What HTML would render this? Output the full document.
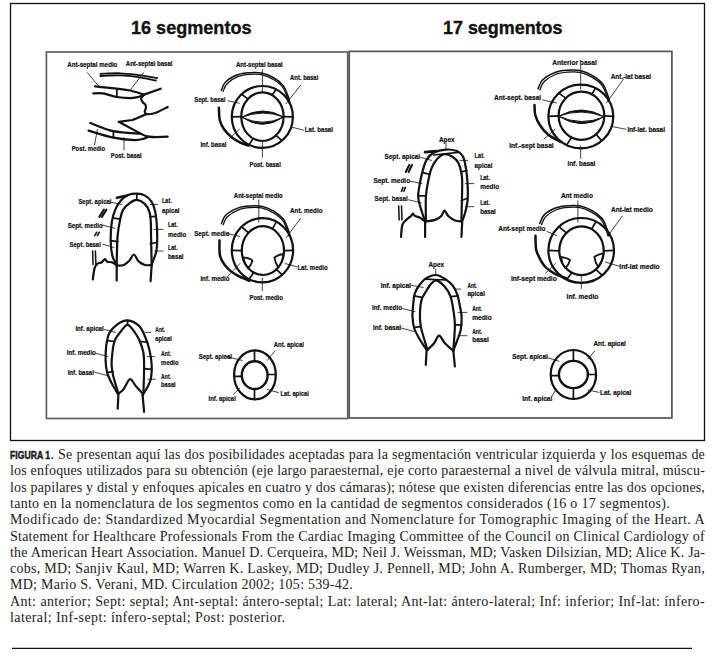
<!DOCTYPE html>
<html><head><meta charset="utf-8">
<style>
html,body{margin:0;padding:0;background:#fff;}
body{width:719px;height:661px;position:relative;overflow:hidden;}
svg{position:absolute;left:0;top:0;}
svg text{stroke:#111;stroke-width:0.22px;fill:#111;font-family:"Liberation Sans",sans-serif;font-weight:bold;}
.cap{position:absolute;left:10px;width:695px;font-family:"Liberation Serif",serif;font-size:14px;color:#222;white-space:nowrap;line-height:16px;}
.j{text-align:justify;text-align-last:justify;}
.fig{position:absolute;left:10px;top:448.5px;font-family:"Liberation Sans",sans-serif;font-weight:bold;font-size:10.2px;-webkit-text-stroke:0.45px #1a1a1a;transform:scaleX(0.85);transform-origin:0 0;color:#1a1a1a;line-height:14px;}
</style></head><body>
<svg width="719" height="661" viewBox="0 0 719 661">
<rect x="10.5" y="3.5" width="694" height="437" fill="none" stroke="#111" stroke-width="1.3"/>
<text x="131" y="34" font-size="19" style="stroke-width:0.35px" textLength="120.5" lengthAdjust="spacingAndGlyphs">16 segmentos</text>
<text x="443" y="34" font-size="19" style="stroke-width:0.35px" textLength="119.5" lengthAdjust="spacingAndGlyphs">17 segmentos</text>
<rect x="46.4" y="52" width="301.3" height="366.5" fill="none" stroke="#606060" stroke-width="1.7"/>
<rect x="349.2" y="51.4" width="322.7" height="366.6" fill="none" stroke="#555" stroke-width="1.7"/>
<g fill="none" stroke="#111" stroke-linecap="round" stroke-linejoin="round">
<path d="M100.4,73.9 C103.75,73.8 114.2,73.1 120.5,73.3 C126.8,73.5 132.1,74.32 138.2,75.1 C144.3,75.88 153.95,77.52 157.1,78" stroke-width="1.8" />
<path d="M100.4,76 C103.75,75.9 114.2,75.2 120.5,75.4 C126.8,75.6 132.3,76.35 138.2,77.2 C144.1,78.05 152.95,79.95 155.9,80.5" stroke-width="1.8" />
<path d="M95,86.3 C98.65,86.7 111.08,88 116.9,88.7 C122.72,89.4 125.37,89.52 129.9,90.5 C134.43,91.48 141.73,93.92 144.1,94.6" stroke-width="2.2" />
<path d="M144.1,94.6 L160.7,88.7" stroke-width="2.2"/>
<path d="M93.3,93.4 C94.87,93.4 98.77,92.8 102.7,93.4 C106.63,94 112.37,96.22 116.9,97 C121.43,97.78 126.35,98.1 129.9,98.1 C133.45,98.1 135.93,97.48 138.2,97 C140.47,96.52 142.62,95.5 143.5,95.2" stroke-width="2.2" />
<path d="M116.9,89.3 L116.9,97" stroke-width="1.7"/>
<path d="M143.5,95.2 C143.1,95.78 141.2,97.52 141.1,98.7 C141,99.88 142.2,101.32 142.9,102.3 C143.6,103.28 144.8,103.62 145.3,104.6 C145.8,105.58 146,107.02 145.9,108.2 C145.8,109.38 144.6,110.72 144.7,111.7 C144.8,112.68 145.02,113.8 146.5,114.1 C147.98,114.4 151.63,113.9 153.6,113.5 C155.57,113.1 155.95,112.78 158.3,111.7 C160.65,110.62 166.13,107.78 167.7,107" stroke-width="2.2" />
<path d="M146.5,114.1 C140,117 136,119 132.3,120 L118.7,121.8 L140.6,133.6 C144,135.5 146,136.4 148.8,136.6 C152,137 155,137.1 155.9,137.1 L167.7,136.6" stroke-width="2.2" />
<path d="M90.3,123 C94.15,124.37 105.02,129.43 113.4,131.2 C121.78,132.97 136.07,133.2 140.6,133.6" stroke-width="2.2" />
<path d="M88.5,130.6 C92.65,131.78 105.72,136.12 113.4,137.7 C121.08,139.28 129.5,139.95 134.6,140.1 C139.7,140.25 141.63,139.18 144,138.6 C146.37,138.02 148,136.93 148.8,136.6" stroke-width="2.2" />
<path d="M113.4,131.2 L113.4,137.7" stroke-width="1.7"/>
<path d="M87.4,72.7 L100.4,88.1" stroke-width="0.8"/>
<path d="M143.5,72.7 L129.9,90.5" stroke-width="0.8"/>
<path d="M97.4,129.5 L94.5,145" stroke-width="0.8"/>
<path d="M124,137.7 L124,150" stroke-width="0.8"/>
<text x="67.3" y="66.5" font-size="7.6" textLength="50.1" lengthAdjust="spacingAndGlyphs">Ant-septal medio</text>
<text x="125.8" y="66.3" font-size="7.6" textLength="46.7" lengthAdjust="spacingAndGlyphs">Ant-septal basal</text>
<text x="71.7" y="150.6" font-size="7.6" textLength="33.3" lengthAdjust="spacingAndGlyphs">Post. medio</text>
<text x="110.8" y="158.1" font-size="7.6" textLength="30.9" lengthAdjust="spacingAndGlyphs">Post. basal</text>
<path d="M221.31,90.41 C222.01,89 222.83,84.57 225.53,81.96 C228.24,79.35 233.53,76.31 237.53,74.76 C241.53,73.21 245.53,72.95 249.53,72.65 C253.53,72.34 257.52,72.09 261.53,72.93 C265.55,73.78 270.01,75.62 273.63,77.73 C277.25,79.85 280.73,82.29 283.23,85.61 C285.73,88.92 287.53,94.78 288.61,97.61 C289.69,100.43 289.53,101.73 289.71,102.55" stroke-width="1.5" />
<path d="M223.09,91.41 C223.77,90.09 224.67,85.94 227.21,83.45 C229.76,80.95 234.57,77.96 238.35,76.44 C242.13,74.92 246.03,74.63 249.87,74.33 C253.71,74.02 257.55,73.8 261.39,74.61 C265.23,75.43 269.42,77.22 272.91,79.22 C276.4,81.22 279.87,83.46 282.32,86.61 C284.77,89.77 286.53,95.48 287.6,98.13 C288.67,100.79 288.56,101.81 288.75,102.55" stroke-width="1.3" />
<path d="M218.9,107.7 C219.04,109.74 218.93,116.41 219.75,119.95 C220.58,123.49 221.92,126.12 223.85,128.95 C225.78,131.78 228.6,134.68 231.35,136.95 C234.1,139.22 237.52,141.12 240.35,142.55 C243.18,143.98 247.02,145.05 248.35,145.55" stroke-width="2.5" />
<ellipse cx="262.35" cy="116.95" rx="30.55" ry="30.95" stroke-width="2.2"/>
<ellipse cx="262.45" cy="116.7" rx="21.15" ry="24.3" stroke-width="2.2"/>
<path d="M241.8,117.2 Q262.7,104.8 283.6,117 Q262.7,109 241.8,117.2 Z" fill="#111" stroke-width="1.0"/>
<path d="M241.8,117.2 Q262.7,131.6 283.6,117 Q262.7,127.4 241.8,117.2 Z" fill="#111" stroke-width="1.0"/>
<path d="M241.51,94.31 L248.03,98.93" stroke-width="1.7"/>
<path d="M276.22,89.37 L272.05,95.05" stroke-width="1.7"/>
<path d="M231.8,116.95 L241.3,116.7" stroke-width="1.7"/>
<path d="M292.9,116.95 L283.6,116.7" stroke-width="1.7"/>
<path d="M248.96,144.77 L253.18,138.54" stroke-width="1.7"/>
<path d="M281.99,140.66 L276.04,135.31" stroke-width="1.7"/>
<path d="M262.4,69.5 L262.4,92" stroke-width="0.8"/>
<path d="M262.4,142 L262.4,157.3" stroke-width="0.8"/>
<path d="M228,100.8 L239.3,103.2" stroke-width="0.8"/>
<path d="M300.5,85.5 L286,103.7" stroke-width="0.8"/>
<path d="M292.4,127.3 L303.5,130.2" stroke-width="0.8"/>
<path d="M239.3,129.2 L229.5,138.6" stroke-width="0.8"/>
<text x="235.9" y="66.7" font-size="7.6" textLength="46.9" lengthAdjust="spacingAndGlyphs">Ant-septal basal</text>
<text x="290.1" y="79.8" font-size="7.6" textLength="28.2" lengthAdjust="spacingAndGlyphs">Ant. basal</text>
<text x="194.2" y="102.2" font-size="7.6" textLength="31.3" lengthAdjust="spacingAndGlyphs">Sept. basal</text>
<text x="304.8" y="132.4" font-size="7.6" textLength="28.1" lengthAdjust="spacingAndGlyphs">Lat. basal</text>
<text x="200.4" y="147" font-size="7.6" textLength="26.1" lengthAdjust="spacingAndGlyphs">Inf. basal</text>
<text x="249.5" y="166.8" font-size="7.6" textLength="31.3" lengthAdjust="spacingAndGlyphs">Post. basal</text>
<path d="M116.7,265 C115.98,263.5 113.4,259.95 112.4,256 C111.4,252.05 110.8,246.97 110.7,241.3 C110.6,235.63 110.95,227.48 111.8,222 C112.65,216.52 114.1,212.18 115.8,208.4 C117.5,204.62 119.83,201.57 122,199.3 C124.17,197.03 126.33,195.73 128.8,194.8 C131.27,193.87 134.15,193.6 136.8,193.7 C139.45,193.8 142.25,194.08 144.7,195.4 C147.15,196.72 149.78,199.05 151.5,201.6 C153.22,204.15 154.15,207.3 155,210.7 C155.85,214.1 156.23,217.28 156.6,222 C156.97,226.72 157.27,234.05 157.2,239 C157.13,243.95 157.12,247.45 156.2,251.7 C155.28,255.95 152.45,262.37 151.7,264.5" stroke-width="2.2" />
<path d="M116.7,265 C116.83,260.3 116.9,244.53 117.5,236.8 C118.1,229.07 119.35,223.13 120.3,218.6 C121.25,214.07 121.58,212.23 123.2,209.6 C124.82,206.97 127.73,204.42 130,202.8 C132.27,201.18 134.35,199.72 136.8,199.9 C139.25,200.08 142.6,201.92 144.7,203.9 C146.8,205.88 148.38,208.78 149.4,211.8 C150.42,214.82 150.52,217.47 150.8,222 C151.08,226.53 150.95,231.92 151.1,239 C151.25,246.08 151.6,260.25 151.7,264.5" stroke-width="2.2" />
<path d="M116.7,265.6 C117.9,265.5 121.77,265.83 123.9,265 C126.03,264.17 127.83,262.35 129.5,260.6 C131.17,258.85 132.42,254.42 133.9,254.5 C135.38,254.58 136.55,259.35 138.4,261.1 C140.25,262.85 142.78,264.35 145,265 C147.22,265.65 150.58,265 151.7,265" stroke-width="2.2" />
<path d="M116.7,265.6 L116.7,280.6" stroke-width="2.2"/>
<path d="M151.7,265 L150.6,281.2" stroke-width="2.2"/>
<path d="M92.8,279.5 C93.08,277.65 93.77,271 94.5,268.4 C95.23,265.8 96,264.92 97.2,263.9 C98.4,262.88 100.4,263.12 101.7,262.3 C103,261.48 104.08,259.1 105,259 C105.92,258.9 106.08,261.15 107.2,261.7 C108.32,262.25 110.12,261.75 111.7,262.3 C113.28,262.85 115.87,264.55 116.7,265" stroke-width="2.2" />
<path d="M92.6,251.1 L93.1,264.5" stroke-width="1.5"/>
<path d="M95.4,251.1 L95.9,264.5" stroke-width="1.5"/>
<path d="M116.9,197.8 L127.1,195.4" stroke-width="2.6"/>
<path d="M136.8,193.7 L136.8,199.9" stroke-width="1.7"/>
<path d="M114.1,218.1 L120.3,219.2" stroke-width="1.7"/>
<path d="M110.7,240.6 L117.8,241.7" stroke-width="1.7"/>
<path d="M149.8,216.9 L155.6,216.4" stroke-width="1.7"/>
<path d="M150.4,243.6 L156.7,242.5" stroke-width="1.7"/>
<path d="M110.7,202.2 L122,204.5" stroke-width="0.8"/>
<path d="M101.6,224.9 L114.7,228.3" stroke-width="0.8"/>
<path d="M102.8,244.2 L114.1,247.6" stroke-width="0.8"/>
<path d="M150.4,204.5 L157.5,204.5" stroke-width="0.8"/>
<path d="M153.8,229.4 L163,229.4" stroke-width="0.8"/>
<path d="M155,251 L163,251" stroke-width="0.8"/>
<path d="M99.3,216.9 L103.9,209.6" stroke-width="2.0"/>
<path d="M101.9,216.9 L106.5,209.6" stroke-width="2.0"/>
<path d="M94.8,235.7 L96.6,232.3" stroke-width="1.6"/>
<path d="M97.4,235.7 L99.2,232.3" stroke-width="1.6"/>
<text x="78.4" y="203.7" font-size="7.6" textLength="33.1" lengthAdjust="spacingAndGlyphs">Sept. apical</text>
<text x="67.7" y="227.5" font-size="7.6" textLength="35.0" lengthAdjust="spacingAndGlyphs">Sept. medio</text>
<text x="69.6" y="246.6" font-size="7.6" textLength="31.2" lengthAdjust="spacingAndGlyphs">Sept. basal</text>
<text x="162" y="202.7" font-size="7.6" textLength="9.8" lengthAdjust="spacingAndGlyphs">Lat.</text>
<text x="162" y="212.5" font-size="7.6" textLength="17.6" lengthAdjust="spacingAndGlyphs">apical</text>
<text x="167.9" y="227.1" font-size="7.6" textLength="9.8" lengthAdjust="spacingAndGlyphs">Lat.</text>
<text x="167.9" y="236.8" font-size="7.6" textLength="18.5" lengthAdjust="spacingAndGlyphs">medio</text>
<text x="167.9" y="250.4" font-size="7.6" textLength="9.8" lengthAdjust="spacingAndGlyphs">Lat.</text>
<text x="167.9" y="259.2" font-size="7.6" textLength="15.6" lengthAdjust="spacingAndGlyphs">basal</text>
<path d="M221.41,223.76 C222.11,222.35 222.93,217.92 225.63,215.31 C228.34,212.7 233.63,209.66 237.63,208.11 C241.63,206.56 245.63,206.3 249.63,206 C253.63,205.69 257.62,205.44 261.63,206.28 C265.65,207.13 270.11,208.97 273.73,211.08 C277.35,213.2 280.83,215.64 283.33,218.96 C285.83,222.27 287.63,228.13 288.71,230.96 C289.79,233.78 289.63,235.08 289.81,235.9" stroke-width="1.5" />
<path d="M223.19,224.76 C223.87,223.44 224.77,219.29 227.31,216.8 C229.86,214.3 234.67,211.31 238.45,209.79 C242.23,208.27 246.13,207.98 249.97,207.68 C253.81,207.37 257.65,207.15 261.49,207.96 C265.33,208.78 269.52,210.57 273.01,212.57 C276.5,214.57 279.97,216.81 282.42,219.96 C284.87,223.12 286.63,228.83 287.7,231.48 C288.77,234.14 288.66,235.16 288.85,235.9" stroke-width="1.3" />
<path d="M219.5,240.6 C219.62,243.22 218.83,251.65 220.2,256.3 C221.57,260.95 224.87,265.33 227.7,268.5 C230.53,271.67 233.57,273.25 237.2,275.3 C240.83,277.35 247.45,279.88 249.5,280.8" stroke-width="2.5" />
<ellipse cx="262.45" cy="250.3" rx="30.65" ry="32.1" stroke-width="2.2"/>
<ellipse cx="262.9" cy="250.6" rx="21.1" ry="24.4" stroke-width="2.2"/>
<path d="M243.2,257.4 C247,257.8 251,258.5 252.5,260.8 C251.5,264 250,266.5 248.3,268.2 C245.5,265 244,261 243.2,257.4 Z" stroke-width="1.8" fill="#fff"/>
<path d="M274.4,257.4 C277,255.5 280.5,254.3 283.4,254 C283,258.5 281,263.5 278.3,267.6 C276,264 274.8,260.5 274.4,257.4 Z" stroke-width="1.8" fill="#fff"/>
<path d="M241.55,226.82 L248.51,232.75" stroke-width="1.7"/>
<path d="M276.36,221.7 L272.48,228.86" stroke-width="1.7"/>
<path d="M231.8,250.3 L241.8,250.6" stroke-width="1.7"/>
<path d="M293.1,250.3 L284,250.6" stroke-width="1.7"/>
<path d="M249.01,279.15 L253.65,272.53" stroke-width="1.7"/>
<path d="M282.15,274.89 L276.46,269.29" stroke-width="1.7"/>
<path d="M258.8,199.8 L258.8,222" stroke-width="0.8"/>
<path d="M262.3,278 L262.3,290.6" stroke-width="0.8"/>
<path d="M227,233.5 L239.8,236.4" stroke-width="0.8"/>
<path d="M300.5,218.5 L286.3,237.5" stroke-width="0.8"/>
<path d="M285.1,263.6 L297,266.8" stroke-width="0.8"/>
<path d="M239.8,263.6 L227.3,276.7" stroke-width="0.8"/>
<text x="233.8" y="197.9" font-size="7.6" textLength="49.0" lengthAdjust="spacingAndGlyphs">Ant-septal medio</text>
<text x="290.1" y="213.2" font-size="7.6" textLength="32.4" lengthAdjust="spacingAndGlyphs">Ant. medio</text>
<text x="194.2" y="235.5" font-size="7.6" textLength="35.4" lengthAdjust="spacingAndGlyphs">Sept. medio</text>
<text x="297.4" y="269.5" font-size="7.6" textLength="30.3" lengthAdjust="spacingAndGlyphs">Lat. medio</text>
<text x="200.4" y="281.4" font-size="7.6" textLength="29.2" lengthAdjust="spacingAndGlyphs">Inf. medio</text>
<text x="249.5" y="299.8" font-size="7.6" textLength="33.3" lengthAdjust="spacingAndGlyphs">Post. medio</text>
<path d="M117.7,393.6 C116.68,391.83 113.37,386.53 111.6,383 C109.83,379.47 108.1,376.17 107.1,372.4 C106.1,368.63 105.73,364.93 105.6,360.4 C105.47,355.87 105.67,349.75 106.3,345.2 C106.93,340.65 107.5,336.62 109.4,333.1 C111.3,329.58 114.68,326.23 117.7,324.1 C120.72,321.97 123.98,320.05 127.5,320.3 C131.02,320.55 135.9,322.95 138.8,325.6 C141.7,328.25 143.13,332.17 144.9,336.2 C146.67,340.23 148.27,345.02 149.4,349.8 C150.53,354.58 151.45,360.12 151.7,364.9 C151.95,369.68 151.65,374.72 150.9,378.5 C150.15,382.28 148.58,384.83 147.2,387.6 C145.82,390.37 143.37,393.85 142.6,395.1" stroke-width="2.2" />
<path d="M118.4,393.6 C117.52,390.58 114.23,380.28 113.1,375.5 C111.97,370.72 111.72,368.68 111.6,364.9 C111.48,361.12 111.88,356.83 112.4,352.8 C112.92,348.77 113.32,344.23 114.7,340.7 C116.08,337.17 118.57,334.25 120.7,331.6 C122.83,328.95 125.23,324.8 127.5,324.8 C129.77,324.8 132.28,328.95 134.3,331.6 C136.32,334.25 138.08,337.17 139.6,340.7 C141.12,344.23 142.65,348.27 143.4,352.8 C144.15,357.33 144.1,361.1 144.1,367.9 C144.1,374.7 143.52,389.32 143.4,393.6" stroke-width="2.2" />
<path d="M118.4,393.6 C119.28,392.85 121.8,391.5 123.7,389.1 C125.6,386.7 127.78,379.72 129.8,379.2 C131.82,378.68 133.67,383.6 135.8,386 C137.93,388.4 141.47,392.33 142.6,393.6" stroke-width="2.2" />
<path d="M118.4,394.4 L117.7,408.7" stroke-width="2.2"/>
<path d="M142.6,395.1 L144.1,411.8" stroke-width="2.2"/>
<path d="M127.5,320.3 L127.5,324.8" stroke-width="1.7"/>
<path d="M107.1,340.7 L114.7,341.5" stroke-width="1.7"/>
<path d="M107.9,372.4 L113.1,371.7" stroke-width="1.7"/>
<path d="M140.4,341.5 L147.2,342.2" stroke-width="1.7"/>
<path d="M144.1,368.7 L151.7,369.4" stroke-width="1.7"/>
<path d="M104.1,329.4 L115.4,332.4" stroke-width="0.8"/>
<path d="M95.9,353.3 L107.9,356.6" stroke-width="0.8"/>
<path d="M94,372 L107.1,375.5" stroke-width="0.8"/>
<path d="M144.9,332.4 L150.9,332.4" stroke-width="0.8"/>
<path d="M147.2,356.6 L154.7,356.6" stroke-width="0.8"/>
<path d="M147.9,379.2 L155.5,379.2" stroke-width="0.8"/>
<text x="75.4" y="331.4" font-size="7.6" textLength="28.3" lengthAdjust="spacingAndGlyphs">Inf. apical</text>
<text x="66.7" y="355.1" font-size="7.6" textLength="29.2" lengthAdjust="spacingAndGlyphs">Inf. medio</text>
<text x="67.7" y="374.6" font-size="7.6" textLength="26.2" lengthAdjust="spacingAndGlyphs">Inf. basal</text>
<text x="155.3" y="331.8" font-size="7.6" textLength="9.7" lengthAdjust="spacingAndGlyphs">Ant.</text>
<text x="155.3" y="341.1" font-size="7.6" textLength="16.5" lengthAdjust="spacingAndGlyphs">apical</text>
<text x="161.1" y="356.1" font-size="7.6" textLength="9.9" lengthAdjust="spacingAndGlyphs">Ant.</text>
<text x="161.1" y="364.9" font-size="7.6" textLength="17.5" lengthAdjust="spacingAndGlyphs">medio</text>
<text x="161.1" y="378.5" font-size="7.6" textLength="9.9" lengthAdjust="spacingAndGlyphs">Ant.</text>
<text x="161.1" y="387.3" font-size="7.6" textLength="14.6" lengthAdjust="spacingAndGlyphs">basal</text>
<ellipse cx="254.95" cy="374.9" rx="20.85" ry="24.5" stroke-width="2.2"/>
<ellipse cx="254.7" cy="375.15" rx="12.9" ry="13.85" stroke-width="2.4"/>
<path d="M254.5,350.4 L254.5,361.3" stroke-width="1.7"/>
<path d="M254.5,389 L254.5,399.4" stroke-width="1.7"/>
<path d="M234.1,376.3 L241.8,376.3" stroke-width="1.7"/>
<path d="M267.6,374.5 L275.8,374.5" stroke-width="1.7"/>
<path d="M274.9,350.9 L267.2,360.4" stroke-width="0.8"/>
<path d="M225,356.3 L242.2,360.4" stroke-width="0.8"/>
<path d="M267.2,389.5 L278.5,392.6" stroke-width="0.8"/>
<path d="M239.5,388.6 L233.2,394.5" stroke-width="0.8"/>
<text x="273.7" y="346.6" font-size="7.6" textLength="30.2" lengthAdjust="spacingAndGlyphs">Ant. apical</text>
<text x="198.8" y="359.3" font-size="7.6" textLength="33.1" lengthAdjust="spacingAndGlyphs">Sept. apical</text>
<text x="280.5" y="395.9" font-size="7.6" textLength="28.3" lengthAdjust="spacingAndGlyphs">Lat. apical</text>
<text x="208.5" y="401.2" font-size="7.6" textLength="27.3" lengthAdjust="spacingAndGlyphs">Inf. apical</text>
<path d="M425.1,221.4 C424.33,219.08 421.65,211.62 420.5,207.5 C419.35,203.38 418.33,200.57 418.2,196.7 C418.07,192.83 418.93,188.68 419.7,184.3 C420.47,179.92 421.63,174.52 422.8,170.4 C423.97,166.28 424.9,162.55 426.7,159.6 C428.5,156.65 430.38,154.37 433.6,152.7 C436.82,151.03 442.13,149.87 446,149.6 C449.87,149.33 453.97,149.95 456.8,151.1 C459.63,152.25 461.47,153.53 463,156.5 C464.53,159.47 465.23,164.27 466,168.9 C466.77,173.53 467.33,179.15 467.6,184.3 C467.87,189.45 467.98,195.17 467.6,199.8 C467.22,204.43 466.2,208.5 465.3,212.1 C464.4,215.7 462.72,219.85 462.2,221.4" stroke-width="2.2" />
<path d="M425.9,221.4 C425.9,217.28 425.52,203.4 425.9,196.7 C426.28,190 427.3,185.83 428.2,181.2 C429.1,176.57 429.88,172.5 431.3,168.9 C432.72,165.3 434.52,162.05 436.7,159.6 C438.88,157.15 441.83,154.72 444.4,154.2 C446.97,153.68 449.78,155.08 452.1,156.5 C454.42,157.92 456.75,159.87 458.3,162.7 C459.85,165.53 460.75,169.9 461.4,173.5 C462.05,177.1 462.2,176.32 462.2,184.3 C462.2,192.28 461.53,215.22 461.4,221.4" stroke-width="2.2" />
<path d="M433.6,155 L458.3,152.4" stroke-width="1.7"/>
<path d="M425.9,221.4 C427.45,221.15 432.63,220.8 435.2,219.9 C437.77,219 439.77,217.55 441.3,216 C442.83,214.45 443.23,210.6 444.4,210.6 C445.57,210.6 446.5,214.33 448.3,216 C450.1,217.67 453.02,219.7 455.2,220.6 C457.38,221.5 460.37,221.27 461.4,221.4" stroke-width="2.2" />
<path d="M425.1,222.2 L425.1,237" stroke-width="2.2"/>
<path d="M462.2,222.2 L461.4,237" stroke-width="2.2"/>
<path d="M401,237 C401.25,234.92 401.32,227.62 402.5,224.5 C403.68,221.38 406.65,219.72 408.1,218.3 C409.55,216.88 410.42,216.77 411.2,216 C411.98,215.23 412.15,213.7 412.8,213.7 C413.45,213.7 413.95,215.37 415.1,216 C416.25,216.63 418.03,216.6 419.7,217.5 C421.37,218.4 424.2,220.75 425.1,221.4" stroke-width="2.2" />
<path d="M398.7,206 L399.2,219.9" stroke-width="1.5"/>
<path d="M401.5,206 L402,219.9" stroke-width="1.5"/>
<path d="M425.1,152.2 L435.9,151.1" stroke-width="2.8"/>
<path d="M446,142.6 L446,149.6" stroke-width="0.8"/>
<path d="M422.8,172.7 L429.8,174.3" stroke-width="1.7"/>
<path d="M418.9,195.9 L425.9,195.9" stroke-width="1.7"/>
<path d="M461.4,172 L466.8,170.4" stroke-width="1.7"/>
<path d="M461.4,200.5 L467.6,198.2" stroke-width="1.7"/>
<path d="M420.5,157.3 L431.3,160.4" stroke-width="0.8"/>
<path d="M410.4,181.2 L422,183.6" stroke-width="0.8"/>
<path d="M408.5,199.8 L421.3,202.9" stroke-width="0.8"/>
<path d="M459.9,160.4 L467.6,160.4" stroke-width="0.8"/>
<path d="M465.3,183.6 L473.8,183.6" stroke-width="0.8"/>
<path d="M465.3,206.7 L473.8,206.7" stroke-width="0.8"/>
<path d="M405.8,172 L409.2,165" stroke-width="2.0"/>
<path d="M408.6,172 L412,165" stroke-width="2.0"/>
<path d="M401.5,191.3 L403,187.4" stroke-width="1.6"/>
<path d="M403.9,191.3 L405.4,187.4" stroke-width="1.6"/>
<text x="439" y="142.4" font-size="7.6" textLength="15.6" lengthAdjust="spacingAndGlyphs">Apex</text>
<text x="384.5" y="158.5" font-size="7.6" textLength="35.6" lengthAdjust="spacingAndGlyphs">Sept. apical</text>
<text x="373.4" y="182.5" font-size="7.6" textLength="36.7" lengthAdjust="spacingAndGlyphs">Sept. medio</text>
<text x="374.5" y="201.4" font-size="7.6" textLength="33.3" lengthAdjust="spacingAndGlyphs">Sept. basal</text>
<text x="474.6" y="158" font-size="7.6" textLength="10.0" lengthAdjust="spacingAndGlyphs">Lat.</text>
<text x="474.6" y="167.8" font-size="7.6" textLength="17.8" lengthAdjust="spacingAndGlyphs">apical</text>
<text x="480.2" y="180" font-size="7.6" textLength="9.8" lengthAdjust="spacingAndGlyphs">Lat.</text>
<text x="480.2" y="188.5" font-size="7.6" textLength="18.9" lengthAdjust="spacingAndGlyphs">medio</text>
<text x="480.2" y="205.2" font-size="7.6" textLength="9.8" lengthAdjust="spacingAndGlyphs">Lat.</text>
<text x="480.2" y="214.1" font-size="7.6" textLength="15.5" lengthAdjust="spacingAndGlyphs">basal</text>
<path d="M426.6,349.9 C425.35,347.95 421.17,341.82 419.1,338.2 C417.03,334.58 415.3,331.8 414.2,328.2 C413.1,324.6 412.65,320.75 412.5,316.6 C412.35,312.45 412.95,307.05 413.3,303.3 C413.65,299.55 413.75,296.9 414.6,294.1 C415.45,291.3 416.62,289.05 418.4,286.5 C420.18,283.95 422.37,280.72 425.3,278.8 C428.23,276.88 432.55,274.87 436,275 C439.45,275.13 443.2,277.82 446,279.6 C448.8,281.38 450.9,283.15 452.8,285.7 C454.7,288.25 456.28,291.85 457.4,294.9 C458.52,297.95 458.8,300.38 459.5,304 C460.2,307.62 461.4,312.28 461.6,316.6 C461.8,320.92 461.4,326.02 460.7,329.9 C460,333.78 458.63,336.43 457.4,339.9 C456.17,343.37 453.98,348.9 453.3,350.7" stroke-width="2.2" />
<path d="M427.5,349.9 C426.38,346.02 422.05,332.98 420.8,326.6 C419.55,320.22 419.88,316.03 420,311.6 C420.12,307.17 420.62,303.17 421.5,300 C422.38,296.83 423.77,295.23 425.3,292.6 C426.83,289.97 428.92,286.23 430.7,284.2 C432.48,282.17 434.22,280.53 436,280.4 C437.78,280.27 439.48,281.75 441.4,283.4 C443.32,285.05 445.9,287.87 447.5,290.3 C449.1,292.73 450.03,294.73 451,298 C451.97,301.27 452.65,305.42 453.3,309.9 C453.95,314.38 454.9,318.1 454.9,324.9 C454.9,331.7 453.57,346.4 453.3,350.7" stroke-width="2.2" />
<path d="M425,279.1 L446.6,280" stroke-width="1.7"/>
<path d="M427.5,349.9 C428.6,348.78 432.17,345.57 434.1,343.2 C436.03,340.83 437.3,335.7 439.1,335.7 C440.9,335.7 442.53,340.7 444.9,343.2 C447.27,345.7 451.9,349.45 453.3,350.7" stroke-width="2.2" />
<path d="M426.6,350.7 L425.8,364.8" stroke-width="2.2"/>
<path d="M453.3,350.7 L454.9,366.5" stroke-width="2.2"/>
<path d="M414.2,295.8 L421.6,297.4" stroke-width="1.7"/>
<path d="M414.2,327.4 L420.8,326.6" stroke-width="1.7"/>
<path d="M450.8,296.6 L458.2,295.8" stroke-width="1.7"/>
<path d="M454.9,324.9 L461.6,324.9" stroke-width="1.7"/>
<path d="M435.8,269.2 L435.8,275.8" stroke-width="0.8"/>
<path d="M410.9,285.2 L423.3,287.5" stroke-width="0.8"/>
<path d="M402.1,308.5 L415,311.6" stroke-width="0.8"/>
<path d="M401.2,328 L414.2,331.5" stroke-width="0.8"/>
<path d="M454.9,289.1 L460.7,289.1" stroke-width="0.8"/>
<path d="M458.2,312.4 L467,312.4" stroke-width="0.8"/>
<path d="M458.2,335.7 L467,335.7" stroke-width="0.8"/>
<text x="428.4" y="267" font-size="7.6" textLength="15.6" lengthAdjust="spacingAndGlyphs">Apex</text>
<text x="380.7" y="287.5" font-size="7.6" textLength="30.2" lengthAdjust="spacingAndGlyphs">Inf. apical</text>
<text x="371.9" y="310.3" font-size="7.6" textLength="30.2" lengthAdjust="spacingAndGlyphs">Inf. medio</text>
<text x="372.9" y="329.9" font-size="7.6" textLength="28.3" lengthAdjust="spacingAndGlyphs">Inf. basal</text>
<text x="467.4" y="287.5" font-size="7.6" textLength="9.6" lengthAdjust="spacingAndGlyphs">Ant.</text>
<text x="467.4" y="295.7" font-size="7.6" textLength="17.5" lengthAdjust="spacingAndGlyphs">apical</text>
<text x="472.2" y="310.8" font-size="7.6" textLength="9.8" lengthAdjust="spacingAndGlyphs">Ant.</text>
<text x="472.2" y="320" font-size="7.6" textLength="19.5" lengthAdjust="spacingAndGlyphs">medio</text>
<text x="472.2" y="333.6" font-size="7.6" textLength="9.8" lengthAdjust="spacingAndGlyphs">Ant.</text>
<text x="472.2" y="342.4" font-size="7.6" textLength="16.6" lengthAdjust="spacingAndGlyphs">basal</text>
<path d="M538.1,88.8 C538.83,87.33 539.68,82.72 542.5,80 C545.32,77.28 550.83,74.12 555,72.5 C559.17,70.88 563.33,70.62 567.5,70.3 C571.67,69.98 575.82,69.72 580,70.6 C584.18,71.48 588.83,73.4 592.6,75.6 C596.37,77.8 600,80.35 602.6,83.8 C605.2,87.25 607.08,93.36 608.2,96.3 C609.33,99.24 609.16,100.59 609.35,101.45" stroke-width="1.5" />
<path d="M539.95,89.85 C540.67,88.47 541.6,84.15 544.25,81.55 C546.9,78.95 551.92,75.83 555.85,74.25 C559.78,72.67 563.85,72.37 567.85,72.05 C571.85,71.73 575.85,71.5 579.85,72.35 C583.85,73.2 588.22,75.07 591.85,77.15 C595.48,79.23 599.1,81.57 601.65,84.85 C604.2,88.13 606.03,94.08 607.15,96.85 C608.27,99.62 608.15,100.68 608.35,101.45" stroke-width="1.3" />
<path d="M534.5,105.1 C534.64,106.83 534.43,112.1 535.35,115.45 C536.27,118.8 537.94,122.08 540,125.2 C542.06,128.32 544.27,131.42 547.7,134.2 C551.13,136.98 558.45,140.62 560.6,141.9" stroke-width="2.5" />
<ellipse cx="580.85" cy="116.45" rx="32.45" ry="31.85" stroke-width="2.2"/>
<ellipse cx="581.45" cy="115.8" rx="22.85" ry="24.1" stroke-width="2.2"/>
<path d="M558.6,116.2 Q581.45,103.4 604.3,116.8 Q581.45,107.6 558.6,116.2 Z" fill="#111" stroke-width="1.0"/>
<path d="M558.6,116.2 Q581.45,130.8 604.3,116.8 Q581.45,126.6 558.6,116.2 Z" fill="#111" stroke-width="1.0"/>
<path d="M558.72,93.16 L565.87,98.17" stroke-width="1.7"/>
<path d="M595.58,88.07 L591.82,94.33" stroke-width="1.7"/>
<path d="M548.4,116.45 L558.6,115.8" stroke-width="1.7"/>
<path d="M613.3,116.45 L604.3,115.8" stroke-width="1.7"/>
<path d="M566.62,145.08 L571.43,137.46" stroke-width="1.7"/>
<path d="M601.71,140.85 L596.14,134.26" stroke-width="1.7"/>
<path d="M580.7,65.3 L580.7,89" stroke-width="0.8"/>
<path d="M623.3,79.2 L606.6,102.9" stroke-width="0.8"/>
<path d="M542.6,100 L556.5,102.9" stroke-width="0.8"/>
<path d="M612.1,126.5 L626,129.3" stroke-width="0.8"/>
<path d="M544,139 L555.1,129.3" stroke-width="0.8"/>
<path d="M580.7,146 L580.7,158.5" stroke-width="0.8"/>
<text x="552.3" y="64.8" font-size="7.6" textLength="44.5" lengthAdjust="spacingAndGlyphs">Anterior basal</text>
<text x="610.7" y="79.3" font-size="7.6" textLength="40.3" lengthAdjust="spacingAndGlyphs">Ant.-lat basal</text>
<text x="493.9" y="99.6" font-size="7.6" textLength="47.3" lengthAdjust="spacingAndGlyphs">Ant-sept. basal</text>
<text x="627.4" y="132.4" font-size="7.6" textLength="37.6" lengthAdjust="spacingAndGlyphs">Inf-lat. basal</text>
<text x="509.2" y="147.7" font-size="7.6" textLength="44.5" lengthAdjust="spacingAndGlyphs">Inf.-sept basal</text>
<text x="567.6" y="166.3" font-size="7.6" textLength="27.8" lengthAdjust="spacingAndGlyphs">Inf. basal</text>
<path d="M539.73,223.63 C540.44,222.21 541.27,217.73 544,215.09 C546.73,212.46 552.08,209.39 556.13,207.82 C560.17,206.25 564.21,205.99 568.25,205.68 C572.29,205.38 576.32,205.12 580.38,205.98 C584.43,206.83 588.94,208.69 592.6,210.83 C596.25,212.96 599.78,215.43 602.3,218.78 C604.82,222.13 606.64,228.05 607.73,230.9 C608.82,233.76 608.66,235.07 608.85,235.9" stroke-width="1.5" />
<path d="M541.53,224.65 C542.22,223.31 543.13,219.12 545.7,216.6 C548.27,214.07 553.13,211.05 556.95,209.52 C560.77,207.98 564.71,207.69 568.59,207.38 C572.47,207.07 576.35,206.85 580.23,207.67 C584.11,208.5 588.35,210.31 591.87,212.33 C595.39,214.35 598.9,216.61 601.38,219.8 C603.85,222.98 605.63,228.75 606.71,231.44 C607.79,234.12 607.68,235.16 607.88,235.9" stroke-width="1.3" />
<path d="M535.5,235.8 C535.53,237.24 535.47,241.72 535.7,244.45 C535.93,247.18 535.47,248.64 536.9,252.2 C538.33,255.76 541.25,262.17 544.3,265.8 C547.35,269.43 551.57,271.95 555.2,274 C558.83,276.05 564.28,277.42 566.1,278.1" stroke-width="2.5" />
<ellipse cx="581.2" cy="250.45" rx="32.8" ry="32.45" stroke-width="2.2"/>
<ellipse cx="581.5" cy="250.8" rx="22.2" ry="24.4" stroke-width="2.2"/>
<path d="M560.9,256.8 C565,257.5 568.5,258.5 570,260.2 C569,263.5 567.5,266 565.4,268.2 C563,265 561.5,261 560.9,256.8 Z" stroke-width="1.8" fill="#fff"/>
<path d="M594.4,256.8 C597,255 600.5,253.8 603.4,253.4 C603,258 601,263 598.3,267 C596,264 594.8,260.5 594.4,256.8 Z" stroke-width="1.8" fill="#fff"/>
<path d="M558.83,226.72 L566.36,232.95" stroke-width="1.7"/>
<path d="M596.09,221.54 L591.58,229.06" stroke-width="1.7"/>
<path d="M548.4,250.45 L559.3,250.8" stroke-width="1.7"/>
<path d="M614,250.45 L603.7,250.8" stroke-width="1.7"/>
<path d="M566.82,279.62 L571.77,272.73" stroke-width="1.7"/>
<path d="M602.28,275.31 L595.77,269.49" stroke-width="1.7"/>
<path d="M577.9,200.9 L577.9,222" stroke-width="0.8"/>
<path d="M581.3,276 L581.3,288.5" stroke-width="0.8"/>
<path d="M622.1,216.2 L608.2,235.6" stroke-width="0.8"/>
<path d="M547,231.5 L556.8,235.6" stroke-width="0.8"/>
<path d="M605.4,262.1 L619.3,266.2" stroke-width="0.8"/>
<path d="M545.6,273.2 L555.4,263.5" stroke-width="0.8"/>
<text x="560.9" y="197.6" font-size="7.6" textLength="32.0" lengthAdjust="spacingAndGlyphs">Ant medio</text>
<text x="611" y="212.3" font-size="7.6" textLength="41.7" lengthAdjust="spacingAndGlyphs">Ant-lat medio</text>
<text x="498.3" y="231" font-size="7.6" textLength="47.3" lengthAdjust="spacingAndGlyphs">Ant-sept medio</text>
<text x="619.3" y="269.1" font-size="7.6" textLength="40.4" lengthAdjust="spacingAndGlyphs">Inf-lat medio</text>
<text x="510.9" y="281" font-size="7.6" textLength="45.9" lengthAdjust="spacingAndGlyphs">Inf-sept medio</text>
<text x="566.5" y="299.1" font-size="7.6" textLength="32.0" lengthAdjust="spacingAndGlyphs">Inf. medio</text>
<ellipse cx="573.4" cy="374.5" rx="22.7" ry="24.5" stroke-width="2.2"/>
<ellipse cx="573.4" cy="374.5" rx="14.5" ry="13.6" stroke-width="2.4"/>
<path d="M573.4,350 L573.4,360.9" stroke-width="1.7"/>
<path d="M573.4,388.1 L573.4,399" stroke-width="1.7"/>
<path d="M550.7,375.6 L558.9,375.6" stroke-width="1.7"/>
<path d="M587.9,374.5 L596.1,374.5" stroke-width="1.7"/>
<path d="M594.6,351.2 L587.9,358.9" stroke-width="0.8"/>
<path d="M547.8,357.8 L559,361.2" stroke-width="0.8"/>
<path d="M587.9,390.1 L599,392.3" stroke-width="0.8"/>
<path d="M552.3,395.7 L555.6,390.1" stroke-width="0.8"/>
<text x="593.5" y="345.7" font-size="7.6" textLength="32.2" lengthAdjust="spacingAndGlyphs">Ant. apical</text>
<text x="512.2" y="359" font-size="7.6" textLength="35.6" lengthAdjust="spacingAndGlyphs">Sept. apical</text>
<text x="600.1" y="395.3" font-size="7.6" textLength="31.2" lengthAdjust="spacingAndGlyphs">Lat. apical</text>
<text x="522.3" y="401.3" font-size="7.6" textLength="30.0" lengthAdjust="spacingAndGlyphs">Inf. apical</text>
</g>
<line x1="12" y1="648.3" x2="692" y2="648.3" stroke="#111" stroke-width="1.3"/>
</svg>
<div class="fig">FIGURA 1</div>
<div class="cap j" style="letter-spacing:0.19px;top:447.0px;left:50.5px;width:654.5px;">. Se presentan aquí las dos posibilidades aceptadas para la segmentación ventricular izquierda y los esquemas de</div>
<div class="cap j" style="letter-spacing:0.165px;top:463.3px;">los enfoques utilizados para su obtención (eje largo paraesternal, eje corto paraesternal a nivel de válvula mitral, múscu-</div>
<div class="cap j" style="letter-spacing:0.14px;top:479.6px;">los papilares y distal y enfoques apicales en cuatro y dos cámaras); nótese que existen diferencias entre las dos opciones,</div>
<div class="cap" style="letter-spacing:0.28px;top:495.9px;">tanto en la nomenclatura de los segmentos como en la cantidad de segmentos considerados (16 o 17 segmentos).</div>
<div class="cap j" style="letter-spacing:0.38px;top:512.2px;">Modificado de: Standardized Myocardial Segmentation and Nomenclature for Tomographic Imaging of the Heart. A</div>
<div class="cap j" style="letter-spacing:0.24px;top:528.5px;">Statement for Healthcare Professionals From the Cardiac Imaging Committee of the Council on Clinical Cardiology of</div>
<div class="cap j" style="letter-spacing:0.18px;top:544.7px;">the American Heart Association. Manuel D. Cerqueira, MD; Neil J. Weissman, MD; Vasken Dilsizian, MD; Alice K. Ja-</div>
<div class="cap j" style="letter-spacing:0.25px;top:561.0px;">cobs, MD; Sanjiv Kaul, MD; Warren K. Laskey, MD; Dudley J. Pennell, MD; John A. Rumberger, MD; Thomas Ryan,</div>
<div class="cap" style="letter-spacing:0.26px;top:577.3px;">MD; Mario S. Verani, MD. Circulation 2002; 105: 539-42.</div>
<div class="cap j" style="letter-spacing:0.37px;top:593.6px;">Ant: anterior; Sept: septal; Ant-septal: ántero-septal; Lat: lateral; Ant-lat: ántero-lateral; Inf: inferior; Inf-lat: ínfero-</div>
<div class="cap" style="letter-spacing:0.4px;top:609.9px;">lateral; Inf-sept: ínfero-septal; Post: posterior.</div>
</body></html>
